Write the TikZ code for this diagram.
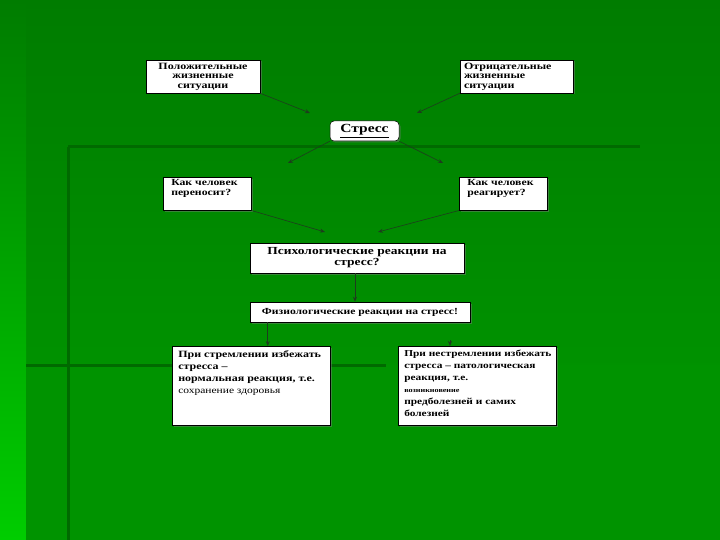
\documentclass[tikz,border=0pt]{standalone}
\usepackage{fontspec}
\setmainfont{Liberation Serif}[FakeStretch=1.25]
\usetikzlibrary{arrows.meta,shadows,calc,positioning}
\definecolor{slidetop}{RGB}{0,124,0}
\definecolor{slidebot}{RGB}{0,156,0}
\definecolor{slidestrip}{RGB}{0,205,0}
\definecolor{slideline}{RGB}{0,106,0}
\definecolor{arrowgray}{RGB}{30,60,30}
\tikzset{
  box/.style={
    draw=black,
    fill=white,
    line width=0.5pt,
    inner sep=2pt,
    font=\bfseries\fontsize{9.6}{9.5}\selectfont,
    drop shadow={shadow xshift=1.5pt, shadow yshift=-1.5pt, opacity=0.45}
  },
  lowbox/.style={
    box,
    anchor=north west,
    inner sep=0pt,
    font=\bfseries\fontsize{9.6}{12}\selectfont
  },
  arr/.style={
    -{Stealth[length=5pt,width=4pt]},
    line width=0.6pt,
    arrowgray
  },
  deco/.style={
    slideline,
    line width=3pt
  }
}

\begin{document}
\begin{tikzpicture}[x=1pt,y=-1pt]
% background of the slide
\useasboundingbox (0,0) rectangle (720,540);
\shade[top color=slidetop, bottom color=slidebot] (0,0) rectangle (720,540);
\shade[top color=slidetop, bottom color=slidestrip] (0,0) rectangle (26,540);
\fill[slidebot!94!black] (26,365) rectangle (720,540);
\draw[deco] (68,147) -- (640,147);
\draw[deco] (68,147) -- (68,540);
\draw[deco] (26,365) -- (386,365);

% upper part
\node[box, minimum width=114pt, minimum height=33pt, align=center] (pos) at (203,76.5)
  {Положительные\\жизненные\\ситуации};
\node[box, minimum width=113pt, minimum height=33pt, align=left, text width=105pt] (neg) at (516.5,76.5)
  {Отрицательные\\жизненные\\ситуации};
\node[box, rounded corners=4pt, minimum width=69pt, minimum height=20pt,
  font=\bfseries\fontsize{12.4}{14}\selectfont] (stress) at (364.5,131) {\underline{Стресс}};

\coordinate (e1) at (310,113);
\coordinate (e2) at (417,113);
\draw[arr] (pos.south east) -- (e1);
\draw[arr] (neg.south west) -- (e2);

\node[box, anchor=north west, inner sep=0pt, font=\bfseries\fontsize{9.4}{10}\selectfont] (carry) at (163,177)
  {\parbox[t][33pt][t]{88pt}{\vspace{2pt}\leftskip=8pt Как человек\\переносит?}};
\node[box, anchor=north west, inner sep=0pt, font=\bfseries\fontsize{9.4}{10}\selectfont] (react) at (459,177)
  {\parbox[t][33pt][t]{88pt}{\vspace{2pt}\leftskip=8pt Как человек\\реагирует?}};

\coordinate (e3) at (288,163);
\coordinate (e4) at (443,163);
\draw[arr] (stress.south west) -- (e3);
\draw[arr] (stress.south east) -- (e4);

% reactions
\node[box, minimum width=214pt, minimum height=30pt, align=center,
  font=\bfseries\fontsize{10.8}{11}\selectfont] (psy) at (357,258)
  {Психологические реакции на\\стресс?};
\node[box, minimum width=220pt, minimum height=20pt,
  font=\bfseries\fontsize{9.3}{10}\selectfont] (phys) at (360,312)
  {Физиологические реакции на стресс!};

\coordinate (e5) at (325,232);
\coordinate (e6) at (378,232);
\draw[arr] (carry.south east) -- (e5);
\draw[arr] (react.south west) -- (e6);
\draw[arr] (psy.south -| 355,0) -- (phys.north -| 355,0);

% outcomes
\node[lowbox] (norm) at (172,346)
  {\parbox[t][79pt][t]{158pt}{\raggedright\vspace{4pt}\leftskip=6pt
   При стремлении избежать\\
   стресса –\\
   нормальная реакция, т.е.\\
   {\mdseries\fontsize{9.2}{12}\selectfont сохранение здоровья}}};
\node[lowbox, font=\bfseries\fontsize{9.1}{12}\selectfont] (path) at (398,346)
  {\parbox[t][79pt][t]{158pt}{\raggedright\vspace{4pt}\leftskip=6pt
   При нестремлении избежать\\
   стресса – патологическая\\
   реакция, т.е.\\
   {\fontsize{6.5}{8}\selectfont возникновение}\\
   предболезней и самих\\
   болезней}};

\coordinate (e7) at (450,340);
\draw[arr] ([xshift=18pt]phys.south west) -- ([xshift=18pt]phys.south west |- norm.north);
\draw[arr] (e7) -- (e7 |- path.north);
\end{tikzpicture}
\end{document}
